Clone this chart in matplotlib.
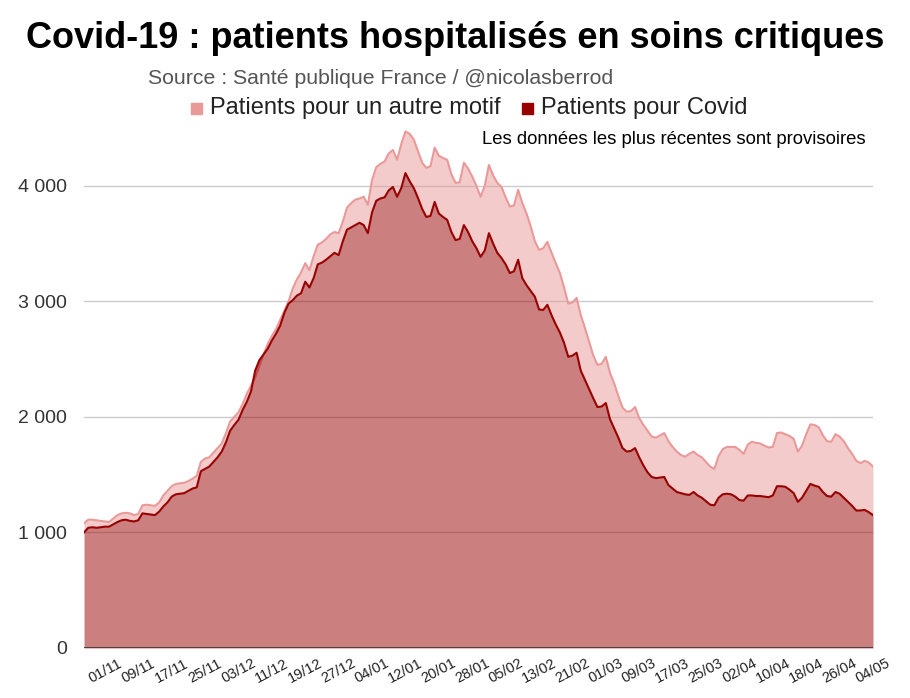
import numpy as np
import matplotlib
matplotlib.use("Agg")
import matplotlib.pyplot as plt
import pandas as pd

plt.rcParams['font.family'] = ['Liberation Sans', 'DejaVu Sans']

# daily series, 27/10/2020 -> 04/05/2021
dates = pd.date_range("2020-10-27", "2021-05-04", freq="D")

covid = [
    1000, 1040, 1045, 1040, 1045, 1050, 1050, 1070, 1090, 1105,
    1110, 1100, 1095, 1105, 1165, 1160, 1155, 1150, 1180, 1225,
    1260, 1310, 1330, 1335, 1340, 1360, 1380, 1390, 1530, 1550,
    1570, 1610, 1650, 1700, 1780, 1880, 1930, 1975, 2060, 2130,
    2220, 2400, 2490, 2540, 2590, 2660, 2720, 2790, 2900, 2980,
    3010, 3050, 3070, 3170, 3120, 3200, 3320, 3335, 3360, 3390,
    3420, 3400, 3520, 3620, 3640, 3660, 3680, 3660, 3590, 3770,
    3870, 3890, 3900, 3960, 3990, 3905, 3980, 4110, 4040, 3980,
    3895, 3800, 3730, 3740, 3860, 3760, 3730, 3705, 3600, 3530,
    3540, 3660, 3600, 3520, 3460, 3385, 3440, 3590, 3500, 3420,
    3375, 3320, 3245, 3260, 3360, 3200, 3140, 3090, 3040, 2930,
    2925, 2970, 2880, 2800, 2730, 2640, 2520, 2530, 2555, 2400,
    2320, 2240, 2160, 2085, 2090, 2120, 1980, 1900, 1820, 1730,
    1700, 1705, 1730, 1650, 1580, 1520, 1480, 1470, 1475, 1480,
    1410, 1380, 1350, 1340, 1330, 1325, 1350, 1320, 1300, 1270,
    1240, 1235, 1300, 1330, 1335, 1330, 1310, 1280, 1275, 1320,
    1320, 1315, 1315, 1310, 1305, 1320, 1400, 1400, 1395, 1370,
    1340, 1265, 1300, 1360, 1420, 1405, 1395, 1350, 1315, 1310,
    1350, 1335, 1300, 1265, 1230, 1190, 1190, 1195, 1175, 1150,
]

# total = covid + autre motif
total = [
    1080, 1110, 1110, 1105, 1100, 1095, 1090, 1120, 1150, 1165,
    1170, 1165, 1150, 1160, 1235, 1240, 1235, 1230, 1260, 1320,
    1360, 1400, 1420, 1425, 1430, 1445, 1465, 1490, 1610, 1640,
    1650, 1690, 1730, 1770, 1860, 1960, 2000, 2040, 2110, 2200,
    2270, 2340, 2440, 2540, 2630, 2700, 2760, 2840, 2920, 3000,
    3110, 3190, 3250, 3330, 3270, 3390, 3490, 3510, 3540, 3580,
    3600, 3590, 3690, 3810, 3850, 3880, 3890, 3905, 3835, 4050,
    4160, 4190, 4210, 4280, 4310, 4225, 4360, 4470, 4450, 4400,
    4300, 4200, 4155, 4170, 4330, 4260, 4240, 4225, 4100, 4025,
    4030, 4200, 4150, 4080, 4000, 3905, 4000, 4180, 4090, 4025,
    3990, 3900, 3820, 3830, 3965, 3850, 3760, 3650, 3520, 3445,
    3460, 3515, 3420, 3330, 3245, 3120, 2980, 2990, 3030, 2880,
    2770, 2650, 2530, 2450, 2460, 2520, 2380, 2290, 2180, 2080,
    2045, 2050, 2085, 1990, 1930, 1880, 1830, 1820, 1840, 1860,
    1790, 1740, 1700, 1670, 1655, 1680, 1700, 1670, 1650, 1610,
    1570, 1550, 1660, 1720, 1740, 1740, 1740, 1715, 1680, 1760,
    1785, 1775, 1770, 1750, 1735, 1740, 1860, 1865, 1850, 1835,
    1810, 1700, 1750, 1850, 1935, 1930, 1910, 1840, 1790, 1785,
    1850, 1830, 1790, 1730, 1680, 1620, 1600, 1620, 1605, 1570,
]

yticks = [0, 1000, 2000, 3000, 4000]
ytick_labels = ["0", "1 000", "2 000", "3 000", "4 000"]

LIGHT = "#ea9999"
DARK = "#990000"

x = np.arange(len(dates))
covid = np.array(covid)
total = np.array(total)

fig = plt.figure(figsize=(9.1, 6.98), dpi=100)
ax = fig.add_axes([84 / 910, 50 / 698, 789 / 910, 520 / 698])

for v in yticks[1:]:
    ax.axhline(v, color="#cccccc", lw=1, zorder=0)

ax.fill_between(x, covid, total, color=LIGHT, alpha=0.5, lw=0, zorder=1)
ax.plot(x, total, color=LIGHT, lw=1.5, zorder=2)
ax.fill_between(x, 0, covid, color=DARK, alpha=0.5, lw=0, zorder=3)
ax.plot(x, covid, color=DARK, lw=1.5, zorder=4)
ax.axhline(0, color="#333333", lw=1.2, zorder=5)

ax.set_xlim(0, len(x) - 1)
ax.set_ylim(0, 4500)
ax.set_yticks(yticks)
ax.set_yticklabels(ytick_labels, fontsize=14, color="#333333")

tick_idx = x[5::8]
ax.set_xticks(tick_idx)
ax.set_xticklabels([dates[i].strftime("%d/%m") for i in tick_idx],
                   rotation=28, ha="center", fontsize=10.5, color="#222222")
ax.tick_params(length=0, pad=12)
ax.tick_params(axis="x", pad=6)
for s in ax.spines.values():
    s.set_visible(False)

fig.text(0.5, 1 - 38 / 698, "Covid-19 : patients hospitalisés en soins critiques",
         ha="center", va="center", fontsize=26, fontweight="bold", color="#000000")
fig.text(148 / 910, 1 - 78 / 698, "Source : Santé publique France / @nicolasberrod",
         ha="left", va="center", fontsize=15.3, color="#555555")

# legend drawn as text + squares
fig.patches.append(plt.Rectangle((191 / 910, 1 - 114 / 698), 11 / 910, 11 / 698,
                                 transform=fig.transFigure, color=LIGHT))
fig.text(210 / 910, 1 - 108 / 698, "Patients pour un autre motif",
         ha="left", va="center", fontsize=17, color="#222222")
fig.patches.append(plt.Rectangle((522 / 910, 1 - 114 / 698), 11 / 910, 11 / 698,
                                 transform=fig.transFigure, color=DARK))
fig.text(541 / 910, 1 - 108 / 698, "Patients pour Covid",
         ha="left", va="center", fontsize=17, color="#222222")

fig.text(866 / 910, 1 - 140 / 698, "Les données les plus récentes sont provisoires",
         ha="right", va="center", fontsize=13.3, color="#000000")

fig.savefig("out.png", dpi=100)
